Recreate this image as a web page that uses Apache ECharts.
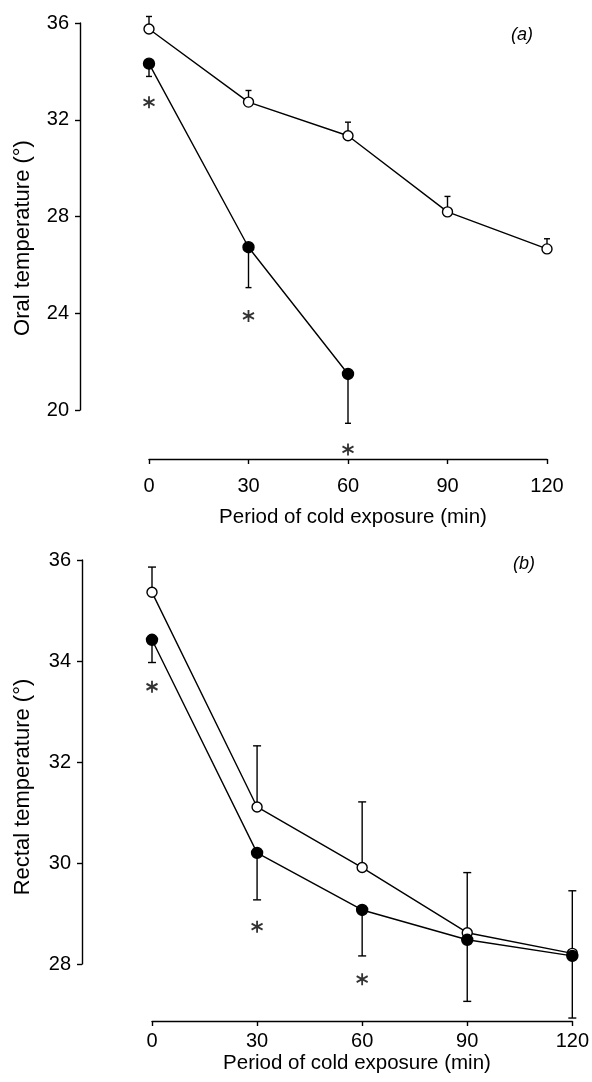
<!DOCTYPE html>
<html><head><meta charset="utf-8">
<script src="https://cdn.jsdelivr.net/npm/echarts@6/dist/echarts.min.js"></script>
<style>html,body{margin:0;padding:0;background:#fff}#c{width:592px;height:1082px}</style>
</head><body><div id="c"></div>
<script>
// ---- data ----
const times = [0, 30, 60, 90, 120];
const starTimes = [0, 30, 60];
const xTicks = [0, 30, 60, 90, 120];
const oralTicks = [20, 24, 28, 32, 36];
const rectalTicks = [28, 30, 32, 34, 36];

const oralControl = [35.75, 32.73, 31.34, 28.19, 26.66];
const oralControlErrTop = [36.27, 33.21, 31.90, 28.83, 27.08];
const oralCold = [34.32, 26.73, 21.49];
const oralColdErrBottom = [33.79, 25.06, 19.45];
const oralStars = [32.72, 23.89, 18.37];

const rectalControl = [35.36, 31.11, 29.91, 28.62, 28.21];
const rectalControlErrTop = [35.86, 32.32, 31.21, 29.81, 29.45];
const rectalCold = [34.42, 30.20, 29.07, 28.48, 28.16];
const rectalColdErrBottom = [33.97, 29.27, 28.16, 27.26, 26.93];
const rectalStars = [33.49, 28.74, 27.70];

// ---- helpers ----
const FONT = '"Liberation Sans", Arial, Helvetica, sans-serif';
const INK = '#000';

function xAxisCfg(gi, offset, margin) {
  return {
    type: 'value', gridIndex: gi, min: xTicks[0], max: xTicks[xTicks.length - 1],
    interval: xTicks[1] - xTicks[0], offset: offset,
    axisLine: { show: true, onZero: false, lineStyle: { color: INK, width: 1.4 } },
    axisTick: { show: true, length: 5, lineStyle: { color: INK, width: 1.4 } },
    axisLabel: { color: INK, fontSize: 20, fontFamily: FONT, margin: margin },
    splitLine: { show: false }
  };
}
function yAxisCfg(gi, ticks, offset) {
  return {
    type: 'value', gridIndex: gi, min: ticks[0], max: ticks[ticks.length - 1],
    interval: ticks[1] - ticks[0], offset: offset,
    axisLine: { show: true, onZero: false, lineStyle: { color: INK, width: 1.4 } },
    axisTick: { show: true, length: 5, lineStyle: { color: INK, width: 1.4 } },
    axisLabel: { color: INK, fontSize: 20, fontFamily: FONT, margin: 11 },
    splitLine: { show: false }
  };
}
function errSeries(gi, xs, vals, ends, cap) {
  return {
    type: 'custom', xAxisIndex: gi, yAxisIndex: gi, clip: false, silent: true, z: 1,
    data: vals.map((v, i) => [xs[i], v, ends[i]]),
    renderItem: function (params, api) {
      const p0 = api.coord([api.value(0), api.value(1)]);
      const p1 = api.coord([api.value(0), api.value(2)]);
      return {
        type: 'group', children: [
          { type: 'line', shape: { x1: p0[0], y1: p0[1], x2: p1[0], y2: p1[1] }, style: { stroke: INK, lineWidth: 1.4 } },
          { type: 'line', shape: { x1: p1[0] - cap, y1: p1[1], x2: p1[0] + cap, y2: p1[1] }, style: { stroke: INK, lineWidth: 1.4 } }
        ]
      };
    }
  };
}
function lineSeries(gi, xs, vals, filled) {
  return {
    type: 'line', xAxisIndex: gi, yAxisIndex: gi, clip: false, silent: true, z: 3,
    data: vals.map((v, i) => [xs[i], v]),
    symbol: 'circle', symbolSize: filled ? 11 : 10,
    itemStyle: { color: filled ? INK : '#fff', borderColor: INK, borderWidth: 1.4 },
    lineStyle: { color: INK, width: 1.4 },
    animation: false
  };
}
const STAR = 'path://M0,-10L0,10M-8.66,-5L8.66,5M-8.66,5L8.66,-5';
function starSeries(gi, vals) {
  return {
    type: 'scatter', xAxisIndex: gi, yAxisIndex: gi, clip: false, silent: true, z: 3,
    data: vals.map((v, i) => [starTimes[i], v]),
    symbol: STAR, symbolSize: [11, 12],
    itemStyle: { color: 'none', borderColor: INK, borderWidth: 1.9 }
  };
}

const option = {
  animation: false,
  backgroundColor: '#fff',
  grid: [
    { left: 149, top: 23, width: 398, height: 387 },
    { left: 152, top: 560, width: 422, height: 404 }
  ],
  xAxis: [xAxisCfg(0, 49, 17), xAxisCfg(1, 57, 10)],
  yAxis: [yAxisCfg(0, oralTicks, 69), yAxisCfg(1, rectalTicks, 70)],
  series: [
    errSeries(0, times, oralControl, oralControlErrTop, 3),
    errSeries(0, times, oralCold, oralColdErrBottom, 3),
    lineSeries(0, times, oralControl, false),
    lineSeries(0, times, oralCold, true),
    starSeries(0, oralStars),
    errSeries(1, times, rectalControl, rectalControlErrTop, 4),
    errSeries(1, times, rectalCold, rectalColdErrBottom, 4),
    lineSeries(1, times, rectalControl, false),
    lineSeries(1, times, rectalCold, true),
    starSeries(1, rectalStars)
  ],
  graphic: [
    { type: 'text', x: 23, y: 238, rotation: Math.PI / 2,
      style: { text: 'Oral temperature (°)', fill: INK, font: '22px ' + FONT, align: 'center', verticalAlign: 'middle' } },
    { type: 'text', x: 23, y: 787, rotation: Math.PI / 2,
      style: { text: 'Rectal temperature (°)', fill: INK, font: '22px ' + FONT, align: 'center', verticalAlign: 'middle' } },
    { type: 'text', x: 353, y: 517,
      style: { text: 'Period of cold exposure (min)', fill: INK, font: '20.5px ' + FONT, align: 'center', verticalAlign: 'middle' } },
    { type: 'text', x: 357, y: 1063,
      style: { text: 'Period of cold exposure (min)', fill: INK, font: '20.5px ' + FONT, align: 'center', verticalAlign: 'middle' } },
    { type: 'text', x: 522, y: 35,
      style: { text: '(a)', fill: INK, font: 'italic 18px ' + FONT, align: 'center', verticalAlign: 'middle' } },
    { type: 'text', x: 524, y: 564,
      style: { text: '(b)', fill: INK, font: 'italic 18px ' + FONT, align: 'center', verticalAlign: 'middle' } }
  ]
};
const chart = echarts.init(document.getElementById('c'), null, { renderer: 'canvas' });
chart.setOption(option);
</script>
</body></html>
